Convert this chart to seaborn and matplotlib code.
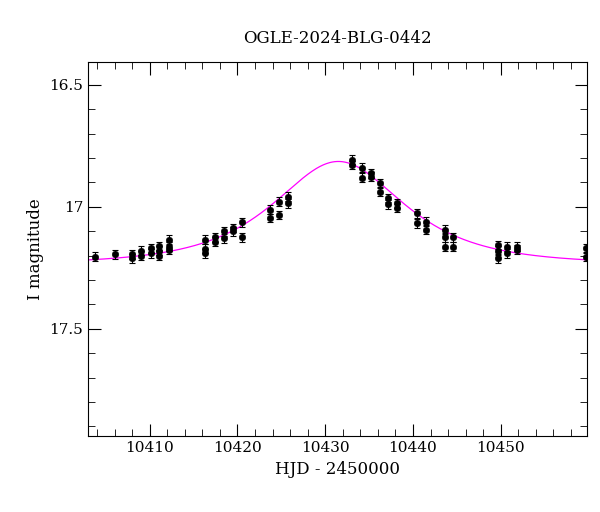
import numpy as np
import pandas as pd
import matplotlib
matplotlib.use("Agg")
import matplotlib.pyplot as plt
from matplotlib.ticker import MultipleLocator
import seaborn as sns

hjd = [10403.8, 10406.0, 10408.0, 10408.0, 10409.0, 10409.0, 10410.1, 10410.1,
       10411.1, 10411.1, 10411.1, 10412.2, 10412.2, 10412.2,
       10416.3, 10416.3, 10416.3, 10417.4, 10417.4, 10418.5, 10418.5,
       10419.5, 10419.5, 10420.5, 10420.5, 10423.7, 10423.7, 10424.7, 10424.7,
       10425.8, 10425.8,
       10433.0, 10433.0, 10434.2, 10434.2, 10435.2, 10435.2, 10436.2, 10436.2,
       10437.2, 10437.2, 10438.2, 10438.2, 10440.4, 10440.4, 10441.5, 10441.5,
       10443.6, 10443.6, 10443.6, 10444.6, 10444.6,
       10449.7, 10449.7, 10449.7, 10450.7, 10450.7, 10451.8, 10451.8,
       10459.7, 10459.7]
mag = [17.204, 17.194, 17.194, 17.21, 17.18, 17.20, 17.17, 17.19,
       17.16, 17.18, 17.20, 17.135, 17.163, 17.176,
       17.135, 17.172, 17.19, 17.124, 17.142, 17.10, 17.128,
       17.087, 17.10, 17.064, 17.124, 17.012, 17.046, 16.978, 17.033,
       16.958, 16.985,
       16.807, 16.828, 16.84, 16.88, 16.862, 16.876, 16.903, 16.937,
       16.964, 16.99, 16.985, 17.005, 17.026, 17.067, 17.06, 17.094,
       17.094, 17.124, 17.163, 17.124, 17.163,
       17.156, 17.18, 17.21, 17.163, 17.19, 17.163, 17.176,
       17.17, 17.204]
err = [0.018] * len(hjd)

# model (Paczynski) parameters
t0, tE, u0, I_base = 10431.5, 9.8, 0.85, 17.235

df = pd.DataFrame({"hjd": hjd, "mag": mag, "err": err})

fig = plt.figure(figsize=(6, 5.12), dpi=100)
ax = fig.add_axes([0.147, 0.148, 0.831, 0.731])

t = np.linspace(10403, 10459.8, 600)
u = np.sqrt(u0**2 + ((t - t0) / tE) ** 2)
A = (u**2 + 2) / (u * np.sqrt(u**2 + 4))
model = pd.DataFrame({"t": t, "I": I_base - 2.5 * np.log10(A)})
sns.lineplot(data=model, x="t", y="I", color="magenta", lw=0.9, ax=ax)

ax.errorbar(df.hjd, df.mag, yerr=df.err, fmt="none", ecolor="black", elinewidth=0.8, capsize=2.5, capthick=0.8)
sns.scatterplot(data=df, x="hjd", y="mag", color="black", s=22, edgecolor="black", ax=ax, zorder=3)

ax.set_xlim(10403, 10459.8)
ax.set_ylim(17.94, 16.406)
ax.xaxis.set_major_locator(MultipleLocator(10))
ax.xaxis.set_minor_locator(MultipleLocator(2))
ax.yaxis.set_minor_locator(MultipleLocator(0.1))
ax.set_yticks([16.5, 17, 17.5])
ax.set_yticklabels(["16.5", "17", "17.5"])
ax.tick_params(which="both", direction="in", top=True, right=True, labelsize=11)
ax.tick_params(which="major", length=9)
ax.tick_params(which="minor", length=5)
for lab in ax.get_xticklabels() + ax.get_yticklabels():
    lab.set_family("DejaVu Serif")
ax.set_xlabel("HJD - 2450000", fontsize=12, family="DejaVu Serif")
ax.set_ylabel("I magnitude", fontsize=12, family="DejaVu Serif")
ax.set_title("OGLE-2024-BLG-0442", fontsize=12, family="DejaVu Serif", pad=14)
fig.savefig("out.png", dpi=100)
